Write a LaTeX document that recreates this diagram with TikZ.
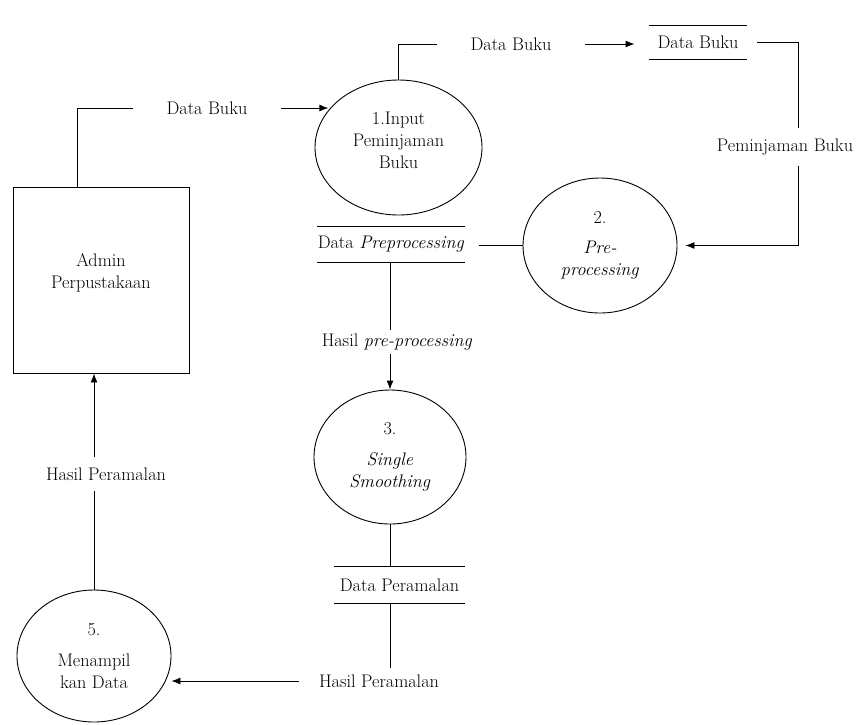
\documentclass[tikz,border=0pt]{standalone}
\usetikzlibrary{shapes.geometric, arrows.meta}

\begin{document}
\begin{tikzpicture}[x=1pt, y=-1pt, line width=0.9pt, >={Latex[length=9pt,width=7pt]},
  font=\fontsize{18.2}{22}\selectfont,
  proc/.style={draw, ellipse, inner sep=0pt, align=center},
  ent/.style={draw, rectangle, inner sep=0pt, align=center},
  store/.style={inner sep=0pt},
  flow/.style={inner xsep=33pt, inner ysep=4pt}]
\useasboundingbox (0,0) rectangle (856,724);
\node[ent, minimum width=176pt, minimum height=186pt] (admin) at (101,280) {Admin\\Perpustakaan\\[-4pt]};
\node[proc, minimum width=167pt, minimum height=135pt] (p1) at (398.5,147.5) {1.Input\\Peminjaman\\Buku\\[-8pt]};
\node[proc, minimum width=154pt, minimum height=135pt] (p2) at (600,245.5) {2.\\[8pt]\textit{Pre-}\\\textit{processing}};
\node[proc, minimum width=152pt, minimum height=134pt] (p3) at (390,457) {3.\\[9pt]\textit{Single}\\\textit{Smoothing}};
\node[proc, minimum width=154pt, minimum height=132pt] (p5) at (94,656) {5.\\[9pt]Menampil\\kan Data};
\node[store, minimum width=98pt, minimum height=33pt] (ds1) at (698,42.5) {Data Buku};
\node[store, minimum width=144pt, minimum height=35pt] (ds2) at (391,244.5) {Data \textit{Preprocessing}};
\node[store, minimum width=130pt, minimum height=36pt] (ds3) at (399.5,585) {Data Peramalan};
\foreach \s in {ds1,ds2,ds3} {
  \draw (\s.north west) -- (\s.north east);
  \draw (\s.south west) -- (\s.south east);
}
\node[flow] (l1) at (207,108) {Data Buku};
\node[flow] (l2) at (511,44) {Data Buku};
\node[flow, inner ysep=10pt] (l3) at (785,147) {Peminjaman Buku};
\node[flow, inner ysep=3pt] (l4) at (397,342) {Hasil \textit{pre-processing}};
\node[flow, inner xsep=20pt, inner ysep=6pt] (l5) at (379,681) {Hasil Peramalan};
\node[flow, inner ysep=10pt] (l6) at (106,474) {Hasil Peramalan};
% Flows:
\draw ([xshift=-24pt]admin.north) |- (l1.west);
\draw[->] (l1.east) -- (l1.east -| p1.152);
\draw (p1.north) |- (l2.west);
\draw[->, shorten >=14pt] (l2.east) -- (l2.east -| ds1.west);
\draw ([xshift=10pt]ds1.east) -| ([xshift=13pt]l3.north);
\draw[->, shorten >=8pt] ([xshift=13pt]l3.south) |- (p2.east);
\draw (p2.west) -- ([xshift=14pt]ds2.east |- p2.west);
\draw (ds2.south -| p3.north) -- (l4.north -| p3.north);
\draw[->] (l4.south -| p3.north) -- (p3.north);
\draw (p3.south) -- (p3.south |- ds3.north);
\draw (ds3.south -| p3.south) -- (l5.north -| p3.south);
\draw[->] (l5.west) -- (l5.west -| p5.east);
\draw (p5.north) -- (p5.north |- l6.south);
\draw[->] (p5.north |- l6.north) -- (p5.north |- admin.south);
\end{tikzpicture}
\end{document}
